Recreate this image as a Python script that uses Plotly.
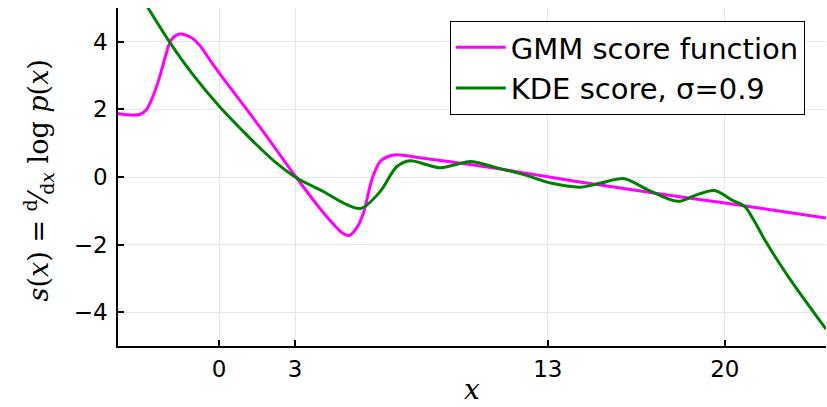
import plotly.graph_objects as go

# GMM score function samples (x, s(x))
gmm_x = [-4.0, -3.6, -3.14, -2.88, -2.62, -2.35, -2.09, -1.89, -1.56, -1.16, -0.77, -0.4,
         0.0, 1.6, 3.07, 3.9, 4.5, 4.85, 5.15, 5.45, 5.71, 6.04, 6.37, 6.77, 7.05,
         8.0, 10.0, 12.0, 14.0, 16.0, 18.0, 20.0, 22.0, 24.0]
gmm_s = [1.88, 1.84, 1.85, 1.99, 2.38, 2.97, 3.66, 4.06, 4.23, 4.15, 3.90, 3.50,
         3.08, 1.49, -0.03, -0.85, -1.38, -1.64, -1.73, -1.50, -1.06, -0.08, 0.46, 0.63, 0.66,
         0.56, 0.36, 0.13, -0.12, -0.34, -0.56, -0.77, -0.99, -1.21]

# KDE score samples, bandwidth 0.9
kde_x = [-2.85, -1.93, -1.03, 0.03, 0.95, 1.61, 2.27, 3.07, 4.12, 4.92, 5.6,
         6.37, 7.03, 7.56, 8.22, 8.75, 9.41, 9.94, 10.99, 12.05, 13.11, 14.3,
         15.1, 16.02, 16.95, 18.14, 18.8, 19.59, 20.25, 20.78, 21.17, 21.57, 22.5, 24.0]
kde_s = [5.05, 3.96, 3.02, 2.07, 1.35, 0.86, 0.41, -0.03, -0.43, -0.77, -0.93,
         -0.43, 0.31, 0.48, 0.36, 0.27, 0.38, 0.46, 0.27, 0.07, -0.18, -0.30,
         -0.18, -0.05, -0.38, -0.72, -0.55, -0.40, -0.67, -0.87, -1.31, -1.85, -2.94, -4.50]

x_ticks = [0, 3, 13, 20]
y_ticks = [-4, -2, 0, 2, 4]

fig = go.Figure()
fig.add_trace(go.Scatter(x=gmm_x, y=gmm_s, mode="lines", name="GMM score function",
                         line=dict(color="#ff00ff", width=3, shape="spline", smoothing=0.9)))
fig.add_trace(go.Scatter(x=kde_x, y=kde_s, mode="lines", name="KDE score, σ=0.9",
                         line=dict(color="#008000", width=3, shape="spline", smoothing=0.9)))

axis_common = dict(
    showline=True, linecolor="black", linewidth=1.5, mirror=False,
    ticks="inside", ticklen=6, tickwidth=1.5, tickcolor="black",
    showgrid=True, gridcolor="#e6e6e6", gridwidth=1, zeroline=False,
    tickfont=dict(family="DejaVu Sans", size=23, color="black"),
)

fig.update_xaxes(range=[-4, 24], tickvals=x_ticks, ticklabelstandoff=2, **axis_common)
fig.update_yaxes(range=[-5, 5], tickvals=y_ticks, ticklabelstandoff=4, **axis_common)

fig.update_layout(
    width=827, height=407,
    margin=dict(l=118, r=1, t=8, b=61),
    paper_bgcolor="white", plot_bgcolor="white",
    showlegend=True,
    legend=dict(
        x=0.970, y=0.962, xanchor="right", yanchor="top",
        bgcolor="white", bordercolor="black", borderwidth=1,
        font=dict(family="DejaVu Sans", size=29, color="black"),
        itemwidth=50,
    ),
    annotations=[
        dict(text="<i>s</i>(<i>x</i>) = <sup>d</sup>⁄<sub>d<i>x</i></sub> log <i>p</i>(<i>x</i>)",
             xref="paper", yref="paper", x=-0.113, y=0.49, textangle=-90,
             showarrow=False, xanchor="center", yanchor="middle",
             font=dict(family="DejaVu Serif", size=27, color="black")),
        dict(text="<i>x</i>", xref="paper", yref="paper", x=0.5, y=-0.184,
             showarrow=False, xanchor="center", yanchor="bottom",
             font=dict(family="DejaVu Serif", size=28, color="black")),
    ],
)

fig.write_html("out.html")
